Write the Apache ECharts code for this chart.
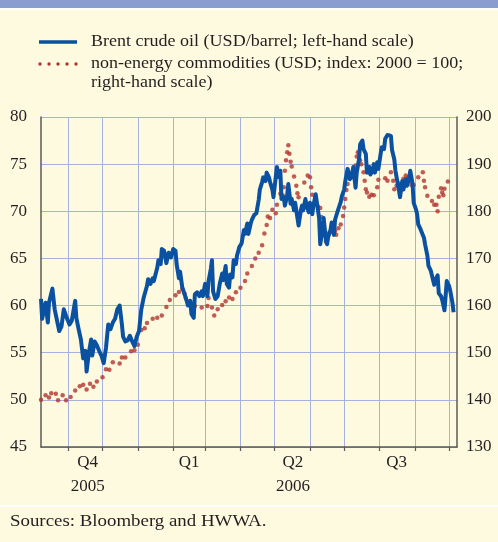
<!DOCTYPE html>
<html>
<head>
<meta charset="utf-8">
<script src="https://cdn.jsdelivr.net/npm/echarts@6/dist/echarts.min.js"></script>
<style>
  html, body { margin: 0; padding: 0; background: #fdfae0; }
  #chart { width: 498px; height: 542px; }
</style>
</head>
<body>
<div id="chart"></div>
<script>
// days counted from 8 Oct 2005
var brentDay = [0, 1, 2, 4, 6, 7, 8, 10, 12, 16, 18, 20, 22, 25, 27, 30, 31, 33, 35, 37, 39, 40, 42, 44, 45, 47, 49, 51, 53, 55, 57, 59, 61, 63, 65, 67, 69, 71, 72, 74, 76, 78, 80, 82, 84, 86, 88, 90, 93, 94, 96, 98, 99, 102, 103, 105, 106, 108, 110, 112, 114, 116, 118, 119, 121, 122, 124, 126, 127, 129, 131, 132, 134, 135, 137, 139, 141, 142, 144, 146, 147, 149, 150, 151, 153, 155, 157, 159, 160, 162, 163, 165, 166, 168, 169, 171, 172, 174, 176, 178, 179, 181, 182, 184, 185, 187, 189, 191, 192, 194, 195, 197, 198, 200, 201, 203, 204, 205, 207, 209, 210, 211, 213, 214, 216, 217, 219, 220, 222, 223, 225, 226, 228, 229, 230, 232, 233, 235, 236, 238, 239, 241, 242, 244, 245, 247, 248, 250, 251, 252, 254, 255, 257, 258, 260, 261, 263, 264, 266, 267, 269, 270, 271, 273, 274, 276, 277, 279, 280, 282, 283, 285, 286, 288, 289, 291, 292, 293, 295, 296, 298, 299, 301, 302, 304, 305, 307, 308, 310, 311, 312, 314, 315, 317, 318, 320, 321, 323, 324, 326, 327, 329, 330, 331, 333, 334, 336, 337, 339, 340, 342, 343, 345, 346, 348, 349, 351, 352, 354, 355, 356, 358, 359, 361, 362];
var brentVal = [60.7, 58.6, 58.7, 60.3, 58.2, 60.3, 60.5, 61.8, 59.6, 57.3, 57.8, 59.6, 58.9, 58.0, 58.4, 60.5, 58.7, 57.5, 56.4, 54.4, 55.2, 53.0, 55.0, 56.4, 54.7, 56.2, 55.8, 55.2, 54.7, 53.9, 55.5, 58.0, 57.5, 58.2, 58.6, 59.6, 60.0, 58.0, 56.7, 56.2, 56.3, 56.8, 56.2, 55.7, 56.7, 57.3, 59.6, 60.8, 62.1, 62.8, 62.3, 62.9, 62.6, 64.0, 64.8, 64.4, 66.0, 65.8, 64.5, 65.6, 65.1, 66.0, 65.8, 64.4, 62.9, 63.6, 61.9, 61.2, 60.8, 60.0, 60.5, 59.1, 58.7, 61.2, 61.4, 61.0, 61.5, 61.0, 62.3, 61.0, 62.6, 63.9, 64.8, 61.5, 60.7, 61.0, 62.4, 63.4, 62.7, 64.2, 62.3, 61.9, 63.3, 63.0, 64.8, 64.4, 65.3, 66.2, 66.6, 68.0, 67.6, 68.7, 67.6, 68.7, 69.1, 69.6, 69.8, 71.2, 72.3, 73.1, 73.6, 73.2, 74.1, 73.6, 73.1, 72.3, 71.5, 72.6, 74.7, 73.6, 74.3, 71.3, 71.5, 70.6, 71.7, 72.9, 70.8, 71.3, 70.1, 70.9, 69.3, 68.5, 70.1, 70.6, 70.1, 71.3, 70.6, 69.9, 70.9, 69.7, 70.6, 71.8, 71.8, 69.3, 66.5, 68.0, 69.3, 66.9, 66.5, 67.3, 68.0, 68.8, 67.5, 69.1, 69.9, 69.7, 71.0, 71.6, 72.3, 73.2, 74.5, 74.1, 73.4, 73.9, 74.7, 72.5, 74.1, 75.5, 77.1, 77.5, 76.6, 76.1, 74.1, 74.7, 73.9, 74.3, 75.0, 74.1, 75.2, 74.5, 76.1, 76.8, 76.6, 77.7, 78.1, 78.1, 78.0, 76.5, 75.5, 74.3, 73.6, 72.3, 71.5, 73.2, 72.3, 73.4, 72.7, 73.4, 74.3, 72.9, 70.9, 70.2, 69.7, 68.6, 68.1, 67.9, 67.2, 66.5, 65.3, 64.2, 63.7, 63.2, 62.2, 62.7, 63.2, 61.3, 61.0, 60.6, 59.5, 61.0, 62.6, 62.1, 61.6, 60.3, 59.3];

var commDay = [0, 4, 7, 9, 13, 15, 19, 22, 26, 30, 34, 37, 40, 43, 46, 49, 54, 57, 60, 63, 69, 71, 74, 79, 82, 85, 88, 91, 93, 98, 102, 106, 110, 113, 118, 121, 124, 126, 127, 130, 132, 133, 135, 141, 146, 147, 150, 152, 155, 159, 162, 165, 168, 171, 175, 179, 181, 185, 188, 191, 194, 196, 198, 199, 201, 203, 206, 207, 210, 212, 213, 214, 215, 216, 217, 218, 219, 220, 222, 224, 225, 226, 231, 234, 236, 237, 238, 241, 243, 245, 246, 248, 249, 250, 253, 256, 258, 259, 261, 263, 265, 266, 267, 268, 269, 272, 275, 276, 277, 278, 280, 281, 283, 284, 285, 286, 288, 290, 292, 295, 296, 302, 304, 307, 309, 310, 312, 314, 318, 320, 322, 325, 327, 331, 335, 336, 337, 339, 343, 345, 347, 348, 349, 351, 352, 353, 354, 357];
var commVal = [140.0, 141.0, 140.5, 141.4, 141.3, 139.9, 141.0, 139.9, 140.6, 142.0, 142.9, 143.2, 142.2, 143.4, 142.8, 143.9, 144.8, 146.5, 146.4, 148.0, 147.7, 149.0, 149.0, 150.3, 150.5, 151.7, 154.8, 155.2, 156.3, 157.2, 157.4, 157.9, 159.7, 161.2, 162.2, 162.9, 163.5, 162.5, 161.6, 160.9, 159.2, 158.4, 159.9, 159.6, 159.9, 161.6, 159.6, 157.9, 159.2, 160.1, 160.9, 161.7, 161.4, 162.8, 163.8, 165.2, 166.8, 168.4, 170.0, 171.2, 172.8, 175.3, 177.1, 178.9, 178.6, 180.3, 179.6, 181.4, 183.7, 183.4, 185.1, 188.6, 190.8, 192.5, 194.0, 192.2, 190.5, 189.5, 187.4, 185.4, 183.8, 183.0, 186.1, 187.6, 187.2, 185.1, 183.5, 183.0, 181.0, 180.7, 178.8, 177.2, 175.5, 173.6, 175.5, 175.8, 175.8, 175.0, 176.4, 177.2, 179.0, 180.8, 182.6, 184.5, 185.8, 187.1, 187.9, 189.7, 191.6, 192.5, 190.8, 190.0, 188.3, 186.5, 184.7, 184.0, 183.1, 183.5, 183.4, 185.1, 186.7, 187.0, 186.5, 188.3, 186.5, 184.7, 185.4, 185.9, 186.9, 187.6, 187.2, 185.6, 185.6, 187.2, 188.3, 186.5, 185.1, 183.3, 182.2, 181.4, 181.4, 180.0, 183.1, 184.9, 184.0, 183.4, 184.8, 186.3];

// month starts (Nov 2005 .. Oct 2006) and mid-quarter label positions, as day offsets
var monthStartDay = [24, 54, 85, 116, 144, 175, 205, 236, 266, 297, 328, 358];
var quarterDay = [41, 130, 221, 312];
var quarterText = ['Q4\n2005', 'Q1', 'Q2\n2006', 'Q3'];

var FONT = 'Liberation Serif';
var TXT = '#231f20';
var BLUE = '#0a51a1';
var RED = '#b0342f';
var GRID = '#a5b1de';
var AXIS = '#5a5a5a';

var chart = echarts.init(document.getElementById('chart'));
chart.setOption({
  animation: false,
  backgroundColor: '#fdfae0',
  grid: { left: 41, right: 41, top: 117, bottom: 95 },
  xAxis: {
    type: 'value',
    min: 0,
    max: 365,
    axisLine: { onZero: false, lineStyle: { color: AXIS, width: 1.5 } },
    axisTick: { show: true, length: 4, customValues: monthStartDay, lineStyle: { color: AXIS, width: 1.2 } },
    axisLabel: {
      customValues: quarterDay,
      margin: 4,
      fontFamily: FONT, fontSize: 17, color: TXT, lineHeight: 24,
      formatter: function (v) {
        var i = quarterDay.indexOf(Math.round(v));
        return i < 0 ? '' : quarterText[i];
      }
    },
    splitLine: { show: true, lineStyle: { color: GRID, width: 1 } }
  },
  yAxis: [{
    type: 'value', min: 45, max: 80, interval: 5,
    axisLine: { show: true, lineStyle: { color: AXIS, width: 1.5 } },
    axisTick: { show: false },
    axisLabel: { margin: 14, fontFamily: FONT, fontSize: 17, color: TXT },
    splitLine: { show: true, lineStyle: { color: GRID, width: 1 } }
  }, {
    type: 'value', min: 130, max: 200, interval: 10, position: 'right',
    axisLine: { show: true, lineStyle: { color: AXIS, width: 1.5 } },
    axisTick: { show: false },
    axisLabel: { margin: 9, fontFamily: FONT, fontSize: 17, color: TXT },
    splitLine: { show: false }
  }],
  series: [{
    name: 'Brent crude oil',
    type: 'line',
    showSymbol: false,
    data: brentDay.map(function (d, i) { return [d, brentVal[i]]; }),
    lineStyle: { color: BLUE, width: 4, join: 'round' }
  }, {
    name: 'non-energy commodities',
    type: 'scatter',
    yAxisIndex: 1,
    symbolSize: 4.5,
    data: commDay.map(function (d, i) { return [d, commVal[i]]; }),
    itemStyle: { color: RED }
  }],
  graphic: [
    { type: 'rect', shape: { x: 0, y: 0, width: 498, height: 8 }, style: { fill: '#8b9dd0' } },
    { type: 'rect', shape: { x: 0, y: 8, width: 498, height: 2 }, style: { fill: '#ffffff' } },
    { type: 'line', shape: { x1: 39, y1: 42, x2: 77, y2: 42 }, style: { stroke: BLUE, lineWidth: 3.3 } },
    { type: 'circle', shape: { cx: 40, cy: 64, r: 1.7 }, style: { fill: RED } },
    { type: 'circle', shape: { cx: 49, cy: 64, r: 1.7 }, style: { fill: RED } },
    { type: 'circle', shape: { cx: 58, cy: 64, r: 1.7 }, style: { fill: RED } },
    { type: 'circle', shape: { cx: 67, cy: 64, r: 1.7 }, style: { fill: RED } },
    { type: 'circle', shape: { cx: 76, cy: 64, r: 1.7 }, style: { fill: RED } },
    { type: 'text', x: 91, y: 42, scaleX: 1.06, style: { text: 'Brent crude oil (USD/barrel; left-hand scale)', font: '17px "Liberation Serif"', fill: TXT, verticalAlign: 'middle' } },
    { type: 'text', x: 91, y: 64, scaleX: 1.06, style: { text: 'non-energy commodities (USD; index: 2000 = 100;', font: '17px "Liberation Serif"', fill: TXT, verticalAlign: 'middle' } },
    { type: 'text', x: 91, y: 83, scaleX: 1.06, style: { text: 'right-hand scale)', font: '17px "Liberation Serif"', fill: TXT, verticalAlign: 'middle' } },
    { type: 'rect', shape: { x: 0, y: 505, width: 498, height: 2 }, style: { fill: '#ffffff' } },
    { type: 'text', x: 10, y: 522, scaleX: 1.11, style: { text: 'Sources: Bloomberg and HWWA.', font: '17px "Liberation Serif"', fill: TXT, verticalAlign: 'middle' } }
  ]
});
</script>
</body>
</html>
